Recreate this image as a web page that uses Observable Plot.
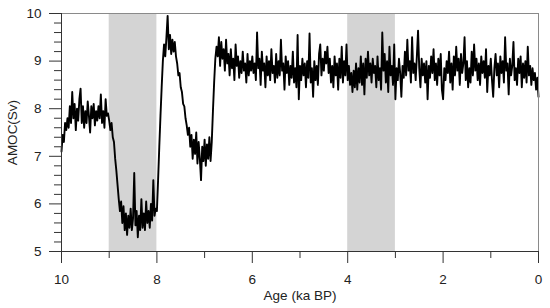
<!DOCTYPE html>
<html>
<head>
<meta charset="utf-8">
<script src="https://cdn.jsdelivr.net/npm/d3@7"></script>
<script src="https://cdn.jsdelivr.net/npm/@observablehq/plot@0.6"></script>
<style>
  html, body { margin: 0; padding: 0; background: #fff; }
  #chart { width: 550px; height: 308px; }
</style>
</head>
<body>
<div id="chart"></div>
<script>
// Age axis: first sample at 10 ka BP, one sample every 0.025 ka down to 0 ka BP
const ageStart = 10;
const ageStep = 0.025;

// AMOC (Sv), 10 ka BP -> 0 ka BP
const amoc = [
  // 10.0 - 9.025
  7.10,7.45,7.30,7.70,7.55,7.80,7.60,8.05,7.70,8.35,7.80,8.10,7.55,8.00,7.75,8.20,8.42,7.70,8.05,7.60,
  7.95,7.70,8.15,7.85,7.50,8.05,7.80,8.10,7.65,7.95,7.75,8.05,7.80,8.30,7.70,7.95,7.60,8.20,7.85,7.90,
  // 9.0 - 8.025
  7.75,7.55,7.70,7.40,7.30,6.95,6.70,6.40,6.10,5.85,6.05,5.60,5.95,5.45,5.80,5.35,5.75,5.50,5.90,5.45,
  5.70,6.65,5.55,5.85,5.30,5.75,5.45,6.10,5.50,5.80,5.45,6.05,5.60,5.85,5.50,6.00,5.65,6.50,5.75,5.90,
  // 8.0 - 7.025
  5.85,6.50,7.20,7.85,8.45,9.00,9.35,9.10,9.50,9.95,9.25,9.55,9.15,9.45,9.20,9.40,9.10,8.95,8.70,8.75,
  8.45,8.35,8.10,8.05,7.80,7.65,7.45,7.60,7.20,7.45,6.95,7.35,7.05,7.50,6.85,7.30,6.95,6.50,7.20,6.90,
  // 7.0 - 6.025
  7.35,6.80,7.25,6.95,7.40,6.90,7.30,7.95,8.55,9.05,9.30,9.10,9.50,8.90,9.40,9.05,9.25,8.80,9.45,8.95,
  9.15,8.70,9.25,8.85,9.05,8.60,9.35,8.90,9.10,8.65,9.00,8.75,9.20,8.80,8.95,8.55,9.15,8.70,9.00,8.80,
  // 6.0 - 5.025
  9.10,8.75,8.95,8.60,9.60,8.85,9.05,8.50,9.20,8.80,8.95,8.45,9.10,8.70,9.00,8.60,9.25,8.75,8.90,8.55,
  9.15,8.65,9.00,8.70,9.45,8.80,8.95,8.40,9.10,8.75,9.00,8.50,8.90,8.65,9.20,8.55,8.85,8.45,9.55,8.20,
  // 5.0 - 4.025
  8.90,8.60,9.05,8.70,8.95,8.45,9.00,8.65,9.58,8.55,8.85,8.25,9.00,8.60,8.90,8.50,9.15,9.35,8.70,9.05,
  8.80,9.20,8.95,9.30,8.75,9.05,8.55,8.90,8.45,9.10,8.70,8.95,8.40,9.05,8.65,9.30,8.55,9.00,8.70,9.35,
  // 4.0 - 3.025
  8.60,8.90,8.50,8.75,8.35,8.80,8.45,8.95,8.40,8.85,8.55,9.10,8.50,8.95,8.30,9.05,8.65,9.20,8.70,8.95,
  8.55,9.05,8.75,8.90,8.45,9.10,8.60,8.85,8.40,9.60,8.80,9.15,8.55,9.00,8.35,9.30,8.70,8.90,8.50,9.35,
  // 3.0 - 2.025
  8.20,8.85,8.60,9.05,8.75,8.25,8.90,8.65,9.20,8.70,9.45,8.80,9.00,8.55,9.50,8.75,8.95,8.60,9.10,9.64,
  8.85,8.45,9.05,8.70,8.95,8.55,9.00,8.20,8.90,8.65,9.10,8.75,9.25,8.60,8.95,8.50,9.05,8.70,9.15,8.40,
  // 2.0 - 1.025
  8.20,8.85,8.60,9.00,8.75,9.20,8.55,8.95,8.40,9.10,8.70,9.30,8.80,9.05,8.50,9.15,8.75,8.95,9.50,8.60,
  9.00,8.45,8.85,8.55,9.20,8.70,9.35,8.80,9.05,8.60,8.95,8.50,9.10,8.75,9.00,8.65,9.25,8.35,8.90,8.70,
  // 1.0 - 0.0
  9.05,8.60,8.25,8.85,9.15,8.70,8.95,8.45,9.10,8.75,9.00,8.55,9.50,8.80,8.95,8.30,9.05,8.70,8.90,9.40,
  8.60,8.85,8.50,9.05,8.75,9.10,8.45,8.95,8.65,9.00,8.55,9.30,8.70,8.90,8.50,8.85,8.60,8.75,8.40,8.65,
  8.25
];

// Shaded intervals (ka BP)
const bandStart = [9, 4];
const bandEnd = [8, 3];

// Axis ticks
const xMajorTicks = [10, 8, 6, 4, 2, 0];
const xMinorTicks = [9, 7, 5, 3, 1];
const yMajorTicks = [5, 6, 7, 8, 9, 10];
const yMinorTicks = [5.2,5.4,5.6,5.8,6.2,6.4,6.6,6.8,7.2,7.4,7.6,7.8,8.2,8.4,8.6,8.8,9.2,9.4,9.6,9.8];

const xLabel = "Age (ka BP)";
const yLabel = "AMOC(Sv)";

const series = amoc.map((v, i) => ({age: ageStart - i * ageStep, amoc: v}));
const bands = bandStart.map((s, i) => ({x1: s, x2: bandEnd[i]}));

const chart = Plot.plot({
  width: 550,
  height: 308,
  marginLeft: 61,
  marginRight: 12,
  marginTop: 13,
  marginBottom: 57,
  style: {fontFamily: "'Liberation Sans', Arial, Helvetica, sans-serif", fontSize: "13px", color: "#222", background: "#fff"},
  x: {domain: [10, 0]},
  y: {domain: [5, 10]},
  marks: [
    Plot.rect(bands, {x1: "x1", x2: "x2", fill: "#d4d4d4"}),
    Plot.line(series, {x: "age", y: "amoc", stroke: "#000", strokeWidth: 1.9, strokeLinejoin: "round"}),
    Plot.frame({stroke: "#8a8a8a"}),
    Plot.ruleY([yMajorTicks[0]], {stroke: "#333"}),
    Plot.ruleX([xMajorTicks[0]], {stroke: "#333"}),
    Plot.axisX({ticks: xMajorTicks, tickSize: 12, tickPadding: 11, stroke: "#333", fontSize: 13.5,
      label: xLabel, labelAnchor: "center", labelOffset: 48, labelArrow: "none", tickFormat: d => String(d)}),
    Plot.axisX({ticks: xMinorTicks, tickSize: 7, text: null, label: null, stroke: "#333"}),
    Plot.axisY({ticks: yMajorTicks, tickSize: 12, tickPadding: 8, stroke: "#333", fontSize: 13.5,
      label: yLabel, labelAnchor: "center", labelOffset: 54, labelArrow: "none", tickFormat: d => String(d)}),
    Plot.axisY({ticks: yMinorTicks, tickSize: 7, text: null, label: null, stroke: "#333"})
  ]
});
document.getElementById("chart").appendChild(chart);
</script>
</body>
</html>
